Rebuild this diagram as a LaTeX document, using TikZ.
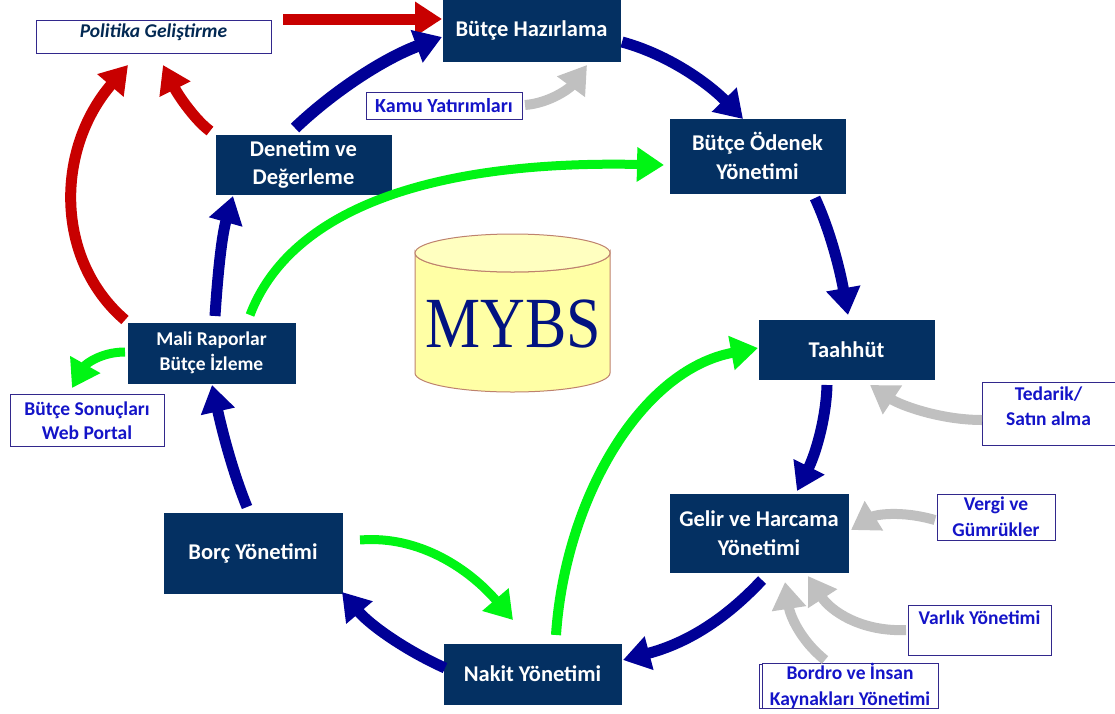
\documentclass[tikz,border=0pt]{standalone}
\usepackage{fontspec}
\setmainfont{Carlito}
\newfontfamily\serifb{Liberation Serif}
\usetikzlibrary{arrows.meta,calc}
\definecolor{navybox}{RGB}{4,48,98}
\definecolor{arrblue}{RGB}{0,0,150}
\definecolor{arrred}{RGB}{200,0,0}
\definecolor{arrgreen}{RGB}{0,245,20}
\definecolor{arrgray}{RGB}{192,192,192}
\definecolor{txtblue}{RGB}{20,20,200}
\definecolor{edgeblue}{RGB}{50,40,140}
\definecolor{cylfill}{RGB}{255,255,165}
\definecolor{cyledge}{RGB}{190,130,110}
\tikzset{
  x=1pt,y=-1pt,
  mainbox/.style={fill=navybox,draw=navybox,text=white,font=\bfseries\fontsize{22.5}{28.5}\selectfont,align=center,inner sep=0pt,minimum width=#1},
  subbox/.style={fill=white,draw=edgeblue,line width=1pt,text=txtblue,font=\bfseries\fontsize{19.5}{26}\selectfont,align=center,inner sep=0pt,minimum width=#1},
  subtext/.style={text=txtblue,font=\bfseries\fontsize{19.5}{25}\selectfont,align=center,inner sep=0pt},
  flow/.style={line width=#1,-{Triangle[length=27pt,width=33pt]}},
  flow/.default=11pt,
  blueflow/.style={flow,draw=arrblue},
  redflow/.style={flow,draw=arrred},
  greenflow/.style={flow=9pt,draw=arrgreen},
  grayflow/.style={flow=10pt,draw=arrgray},
}
\begin{document}
\begin{tikzpicture}
\useasboundingbox (0,0) rectangle (1115,713);
% boxes
\node[mainbox=177pt,minimum height=61pt] (hazirlama) at (531.5,30.5) {\raisebox{-6pt}[0pt][0pt]{Bütçe Hazırlama}};
\node[mainbox=175pt,minimum height=74pt] (odenek) at (757.5,156) {Bütçe Ödenek\\Yönetimi};
\node[mainbox=175pt,minimum height=59pt] (denetim) at (303.5,164.5) {Denetim ve\\Değerleme};
\node[mainbox=167pt,minimum height=60pt,font=\bfseries\fontsize{19.5}{25}\selectfont] (mali) at (211.5,353) {Mali Raporlar\\Bütçe İzleme};
\node[mainbox=175pt,minimum height=59pt] (taahhut) at (846.5,349.5) {Taahhüt};
\node[mainbox=178pt,minimum height=78pt] (gelir) at (759,533) {Gelir ve Harcama\\Yönetimi};
\node[mainbox=178pt,minimum height=80pt] (borc) at (253,553) {Borç Yönetimi};
\node[mainbox=177pt,minimum height=60pt] (nakit) at (532.5,674) {Nakit Yönetimi};
\node[subbox=235pt,minimum height=33pt,text=navybox!85!black,font=\bfseries\itshape\fontsize{19.5}{22}\selectfont] (politika) at (153.5,36.5) {\raisebox{-1pt}[0pt][0pt]{Politika Geliştirme}};
\node[subbox=156pt,minimum height=27pt,font=\bfseries\fontsize{20}{22}\selectfont] (kamu) at (444,105.5) {Kamu Yatırımları};
\node[subbox=154pt,minimum height=52pt,font=\bfseries\fontsize{19.5}{24}\selectfont] (sonuclar) at (87,420.5) {Bütçe Sonuçları\\Web Portal};
\node[subbox=133pt,minimum height=63pt] (tedarik) at (1048.5,413.5) {};
\node[subtext] (tedariktext) at (1048.5,406) {Tedarik/\\Satın alma};
\node[subbox=118pt,minimum height=46pt] (vergi) at (996,517) {Vergi ve\\Gümrükler};
\node[subbox=143pt,minimum height=50pt] (varlik) at (979.5,630) {\raisebox{6pt}[0pt][0pt]{Varlık Yönetimi}};
\node[subbox=176pt,minimum height=44pt,xshift=-3pt] (bordroback) at (850,686) {};
\node[subbox=176pt,minimum height=44pt] (bordro) at (850,686) {Bordro ve İnsan\\Kaynakları Yönetimi};
% MYBS cylinder
\path[fill=cylfill,draw=cyledge,line width=1pt] (415,253) arc[start angle=180,end angle=360,x radius=97.5pt,y radius=19pt] -- (610,373) arc[start angle=0,end angle=180,x radius=97.5pt,y radius=-19pt] -- cycle;
\path[fill=cylfill!70!white,draw=cyledge,line width=1pt] (512.5,253) ellipse[x radius=97.5pt,y radius=19pt];
\node[text=arrblue!60!navybox,font=\serifb\fontsize{72}{72}\selectfont,inner sep=0pt,xscale=0.86] (mybs) at (513,324) {MYBS};
% free ends
\coordinate (a1s) at (283,19); \coordinate (a1e) at (442,19);
\coordinate (a2s) at (295,128); \coordinate (a2e) at (442,37);
\coordinate (a3s) at (210,131); \coordinate (a3e) at (163,65);
\coordinate (a4s) at (125,320); \coordinate (a4e) at (128,65);
\coordinate (a5s) at (215,316); \coordinate (a5e) at (233,196);
\coordinate (a6s) at (250,315); \coordinate (a6e) at (664,165);
\coordinate (a7s) at (125,352); \coordinate (a7e) at (72,388);
\coordinate (a8s) at (247,507); \coordinate (a8e) at (212,385);
\coordinate (a9s) at (360,540); \coordinate (a9e) at (513,620);
\coordinate (a10s) at (445,668); \coordinate (a10e) at (342,592);
\coordinate (a11s) at (762,580); \coordinate (a11e) at (623,660);
\coordinate (a12s) at (556,635); \coordinate (a12e) at (758,348);
\coordinate (a13s) at (827,385); \coordinate (a13e) at (797,491);
\coordinate (a14s) at (815,198); \coordinate (a14e) at (848,315);
\coordinate (a15s) at (622,42); \coordinate (a15e) at (743,119);
\coordinate (a16s) at (525,105); \coordinate (a16e) at (587,65);
\coordinate (a17s) at (982,420); \coordinate (a17e) at (870,385);
\coordinate (a18s) at (935,520); \coordinate (a18e) at (851,530);
\coordinate (a19s) at (906,630); \coordinate (a19e) at (808,576);
\coordinate (a20s) at (825,660); \coordinate (a20e) at (785,582);
% connectors
\draw[redflow] (a1s) -- (a1e);
\draw[blueflow,line width=12pt] (a2s) .. controls (335,90) and (385,58) .. (a2e);
\draw[redflow] (a3s) .. controls (195,120) and (178,95) .. (a3e);
\draw[redflow] (a4s) .. controls (55,260) and (55,150) .. (a4e);
\draw[blueflow] (a5s) .. controls (218,270) and (222,235) .. (a5e);
\draw[greenflow] (a6s) .. controls (290,210) and (430,160) .. (a6e);
\draw[greenflow] (a7s) .. controls (100,352) and (85,365) .. (a7e);
\draw[blueflow] (a8s) .. controls (232,470) and (222,430) .. (a8e);
\draw[greenflow] (a9s) .. controls (420,535) and (470,570) .. (a9e);
\draw[blueflow] (a10s) .. controls (405,650) and (370,625) .. (a10e);
\draw[blueflow] (a11s) .. controls (720,625) and (680,645) .. (a11e);
\draw[greenflow,line width=10pt] (a12s) .. controls (565,500) and (640,370) .. (a12e);
\draw[blueflow] (a13s) .. controls (826,420) and (815,455) .. (a13e);
\draw[blueflow] (a14s) .. controls (830,230) and (840,270) .. (a14e);
\draw[blueflow] (a15s) .. controls (670,55) and (710,85) .. (a15e);
\draw[grayflow] (a16s) .. controls (550,103) and (570,88) .. (a16e);
\draw[grayflow] (a17s) .. controls (940,420) and (900,405) .. (a17e);
\draw[grayflow] (a18s) .. controls (900,510) and (875,515) .. (a18e);
\draw[grayflow] (a19s) .. controls (860,632) and (830,610) .. (a19e);
\draw[grayflow] (a20s) .. controls (800,640) and (790,615) .. (a20e);
\end{tikzpicture}
\end{document}
